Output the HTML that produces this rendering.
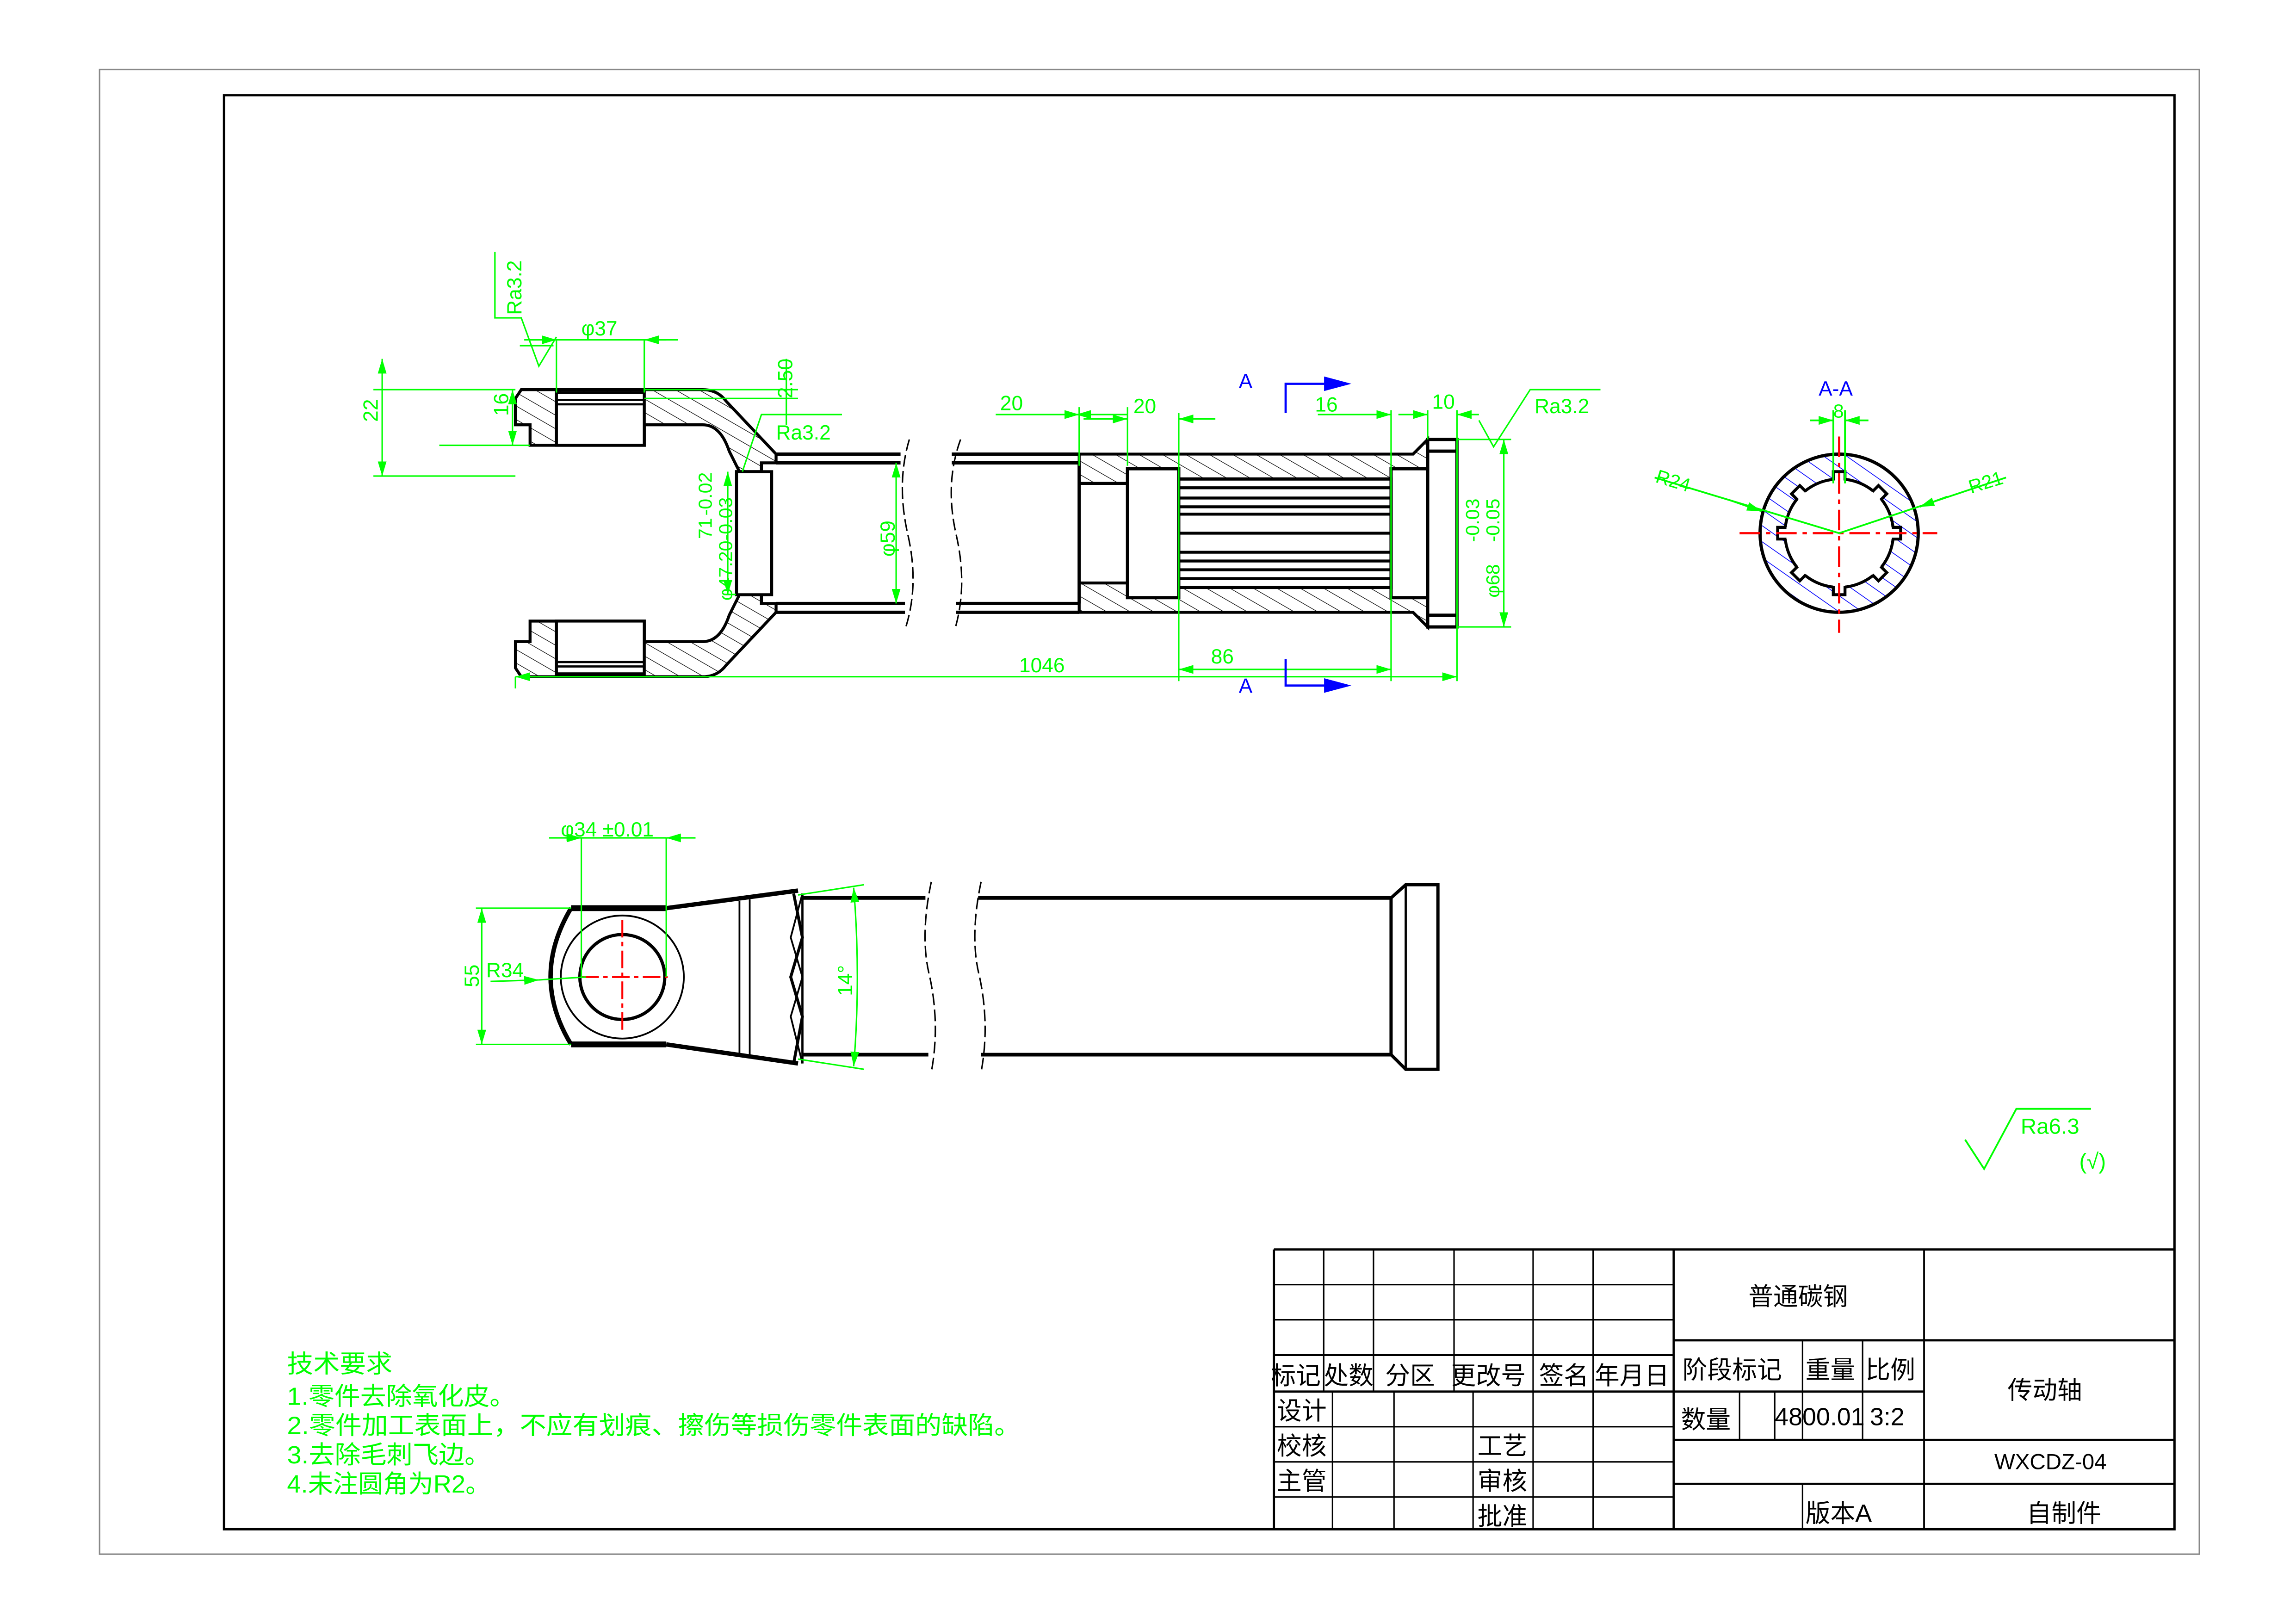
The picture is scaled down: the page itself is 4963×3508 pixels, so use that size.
<!DOCTYPE html>
<html><head><meta charset="utf-8"><style>
html,body{margin:0;padding:0;background:#fff}
svg{display:block}
text{font-family:"Liberation Sans","Noto Sans CJK SC",sans-serif}
</style></head><body>
<svg xmlns="http://www.w3.org/2000/svg" width="4963" height="3508" viewBox="0 0 1568 1108" preserveAspectRatio="none">
<defs>
<pattern id="h" patternUnits="userSpaceOnUse" width="8" height="8" patternTransform="rotate(-60)">
<line x1="0" y1="0" x2="0" y2="8" stroke="#000" stroke-width="0.8"/></pattern>
<pattern id="hb" patternUnits="userSpaceOnUse" width="9" height="9" patternTransform="rotate(-55)">
<line x1="0" y1="0" x2="0" y2="9" stroke="#00f" stroke-width="1"/></pattern>
<marker id="ar" viewBox="0 0 10 6" refX="10" refY="3" markerWidth="10" markerHeight="6" orient="auto-start-reverse" markerUnits="userSpaceOnUse"><path d="M0,0L10,3L0,6z" fill="#0f0"/></marker>
</defs>
<rect x="0" y="0" width="1568" height="1108" fill="#fff"/>
<rect x="68" y="47.5" width="1434" height="1013.5" fill="none" stroke="#888" stroke-width="1"/>
<rect x="153" y="65" width="1332" height="979" fill="none" stroke="#000" stroke-width="1.6"/>

<g stroke="#000" fill="none">
<line x1="870" y1="853" x2="1485" y2="853" stroke-width="1.5"/>
<line x1="870" y1="853" x2="870" y2="1044" stroke-width="1.5"/>
<line x1="870" y1="877" x2="1143" y2="877" stroke-width="1"/>
<line x1="870" y1="901" x2="1143" y2="901" stroke-width="1"/>
<line x1="870" y1="925" x2="1143" y2="925" stroke-width="1.5"/>
<line x1="870" y1="950" x2="1143" y2="950" stroke-width="1.5"/>
<line x1="870" y1="974" x2="1143" y2="974" stroke-width="1"/>
<line x1="870" y1="998" x2="1143" y2="998" stroke-width="1"/>
<line x1="870" y1="1022" x2="1143" y2="1022" stroke-width="1"/>
<g stroke-width="1">
<line x1="904" y1="853" x2="904" y2="950"/><line x1="938" y1="853" x2="938" y2="950"/>
<line x1="993" y1="853" x2="993" y2="950"/><line x1="1047" y1="853" x2="1047" y2="1044"/>
<line x1="1088" y1="853" x2="1088" y2="1044"/>
<line x1="910" y1="950" x2="910" y2="1044"/><line x1="952" y1="950" x2="952" y2="1044"/>
<line x1="1006" y1="950" x2="1006" y2="1044"/>
</g>
<line x1="1143" y1="853" x2="1143" y2="1044" stroke-width="1.5"/>
<line x1="1314" y1="853" x2="1314" y2="1044" stroke-width="1.2"/>
<line x1="1143" y1="915" x2="1485" y2="915" stroke-width="1.5"/>
<line x1="1143" y1="950" x2="1314" y2="950" stroke-width="1.5"/>
<line x1="1143" y1="983" x2="1485" y2="983" stroke-width="1.5"/>
<line x1="1143" y1="1013" x2="1485" y2="1013" stroke-width="1.5"/>
<line x1="1231" y1="915" x2="1231" y2="950" stroke-width="1"/>
<line x1="1272" y1="915" x2="1272" y2="983" stroke-width="1"/>
<line x1="1188" y1="950" x2="1188" y2="983" stroke-width="1"/>
<line x1="1212" y1="950" x2="1212" y2="983" stroke-width="1"/>
<line x1="1231" y1="950" x2="1231" y2="983" stroke-width="1"/>
<line x1="1231" y1="1013" x2="1231" y2="1044" stroke-width="1"/>
</g>
<g font-size="17" fill="#000">
<text x="868" y="945">标记</text><text x="904" y="945">处数</text><text x="946" y="945">分区</text>
<text x="991" y="945">更改号</text><text x="1051" y="945">签名</text><text x="1089" y="945">年月日</text>
<text x="872" y="969">设计</text><text x="872" y="993">校核</text><text x="872" y="1017">主管</text>
<text x="1009" y="993">工艺</text><text x="1009" y="1017">审核</text><text x="1009" y="1041">批准</text>
<text x="1194" y="891">普通碳钢</text>
<text x="1149" y="941">阶段标记</text><text x="1233" y="941">重量</text><text x="1274" y="941">比例</text>
<text x="1148" y="975">数量</text><text x="1212" y="973">4800.01</text><text x="1277" y="973">3:2</text>
<text x="1371" y="955">传动轴</text>
<text x="1362" y="1003" font-size="15">WXCDZ-04</text>
<text x="1233" y="1039">版本A</text>
<text x="1384" y="1039">自制件</text>
</g>

<g fill="#0f0" font-size="17">
<text x="196" y="937" textLength="72" lengthAdjust="spacingAndGlyphs">技术要求</text>
<text x="196" y="959" textLength="156" lengthAdjust="spacingAndGlyphs">1.零件去除氧化皮。</text>
<text x="196" y="979" textLength="501" lengthAdjust="spacingAndGlyphs">2.零件加工表面上，不应有划痕、擦伤等损伤零件表面的缺陷。</text>
<text x="196" y="999" textLength="139" lengthAdjust="spacingAndGlyphs">3.去除毛刺飞边。</text>
<text x="196" y="1019" textLength="139" lengthAdjust="spacingAndGlyphs">4.未注圆角为R2。</text>
</g>

<g stroke="#000" stroke-width="2" fill="url(#h)">
<path d="M352,272 L356,266 L480,266 Q490,266 496,274 L530,310 L530,316 L520,316 L520,322 L503,322 L503,406 L520,406 L520,412 L530,412 L530,418 L496,454 Q490,462 480,462 L356,462 L352,456 L352,438 L362,438 L362,424 L440,424 L440,438 L480,438 Q492,438 498,420 L505,406 L505,322 L498,308 Q492,290 480,290 L440,290 L440,304 L362,304 L362,290 L352,290 Z"/>
</g>
<g stroke="#000" stroke-width="2" fill="#fff">
<rect x="380" y="268" width="60" height="36"/>
<rect x="380" y="424" width="60" height="36"/>
<rect x="503" y="322" width="24" height="84"/>
</g>
<g stroke="#000" stroke-width="1.5">
<line x1="380" y1="273" x2="440" y2="273"/><line x1="380" y1="276" x2="440" y2="276"/>
<line x1="380" y1="455" x2="440" y2="455"/><line x1="380" y1="452" x2="440" y2="452"/>
</g>
<g stroke="#000" stroke-width="2" fill="url(#h)">
<path d="M737,310 L965,310 L975,300 L975,428 L965,418 L737,418 L737,398 L770,398 L770,408 L805,408 L805,401 L950,401 L950,408 L975,408 L975,320 L950,320 L950,327 L805,327 L805,320 L770,320 L770,330 L737,330 Z"/>
</g>
<g stroke="#000" stroke-width="2.2" fill="none">
<line x1="530" y1="310" x2="615" y2="310"/><line x1="530" y1="316" x2="615" y2="316"/>
<line x1="650" y1="310" x2="737" y2="310"/><line x1="650" y1="316" x2="737" y2="316"/>
<line x1="530" y1="418" x2="618" y2="418"/><line x1="530" y1="412" x2="618" y2="412"/>
<line x1="653" y1="418" x2="737" y2="418"/><line x1="653" y1="412" x2="737" y2="412"/>
<line x1="737" y1="316" x2="737" y2="412"/>
<rect x="975" y="300" width="20" height="128" fill="#fff"/>
<line x1="975" y1="308" x2="995" y2="308"/><line x1="975" y1="420" x2="995" y2="420"/>
<rect x="770" y="320" width="35" height="88" fill="#fff"/>
<rect x="950" y="320" width="25" height="88" fill="#fff"/>
<rect x="805" y="327" width="145" height="74" fill="#fff"/>
</g>
<g stroke="#000" stroke-width="2">
<line x1="805" y1="333" x2="950" y2="333"/><line x1="805" y1="340" x2="950" y2="340"/>
<line x1="805" y1="346" x2="950" y2="346"/><line x1="805" y1="351" x2="950" y2="351"/>
<line x1="805" y1="364" x2="950" y2="364"/><line x1="805" y1="377" x2="950" y2="377"/>
<line x1="805" y1="383" x2="950" y2="383"/><line x1="805" y1="389" x2="950" y2="389"/>
<line x1="805" y1="395" x2="950" y2="395"/>
</g>
<g stroke="#000" stroke-width="1" fill="none" stroke-dasharray="8,3">
<path d="M621,300 Q612,330 620,365 Q628,400 618,430"/>
<path d="M656,300 Q645,330 653,365 Q661,400 652,430"/>
</g>

<g stroke="#0f0" stroke-width="1" fill="none">
<line x1="255" y1="266" x2="352" y2="266"/><line x1="255" y1="325" x2="352" y2="325"/>
<line x1="261" y1="245" x2="261" y2="325" marker-start="url(#ar)" marker-end="url(#ar)"/>
<line x1="300" y1="304" x2="362" y2="304"/>
<line x1="350" y1="266" x2="350" y2="304" marker-start="url(#ar)" marker-end="url(#ar)"/>
<line x1="358" y1="232" x2="463" y2="232"/>
<line x1="380" y1="232" x2="380" y2="268"/><line x1="440" y1="232" x2="440" y2="268"/>
<line x1="362" y1="232" x2="380" y2="232" marker-end="url(#ar)"/><line x1="455" y1="232" x2="440" y2="232" marker-end="url(#ar)"/>
<path d="M338,172 L338,217 L356,217 L368,250 L380,230 M355,236 L378,236"/>
<line x1="440" y1="266" x2="545" y2="266"/><line x1="440" y1="272" x2="545" y2="272"/>
<line x1="537" y1="245" x2="537" y2="290"/>
<path d="M507,322 L520,283 L575,283"/>
<line x1="497" y1="322" x2="497" y2="406" marker-start="url(#ar)" marker-end="url(#ar)"/>
<line x1="612" y1="316" x2="612" y2="412" marker-start="url(#ar)" marker-end="url(#ar)"/>
<line x1="737" y1="278" x2="737" y2="318"/><line x1="770" y1="278" x2="770" y2="318"/>
<line x1="805" y1="282" x2="805" y2="465"/><line x1="950" y1="280" x2="950" y2="465"/>
<line x1="975" y1="280" x2="975" y2="300"/><line x1="995" y1="280" x2="995" y2="465"/>
<line x1="680" y1="283" x2="737" y2="283" marker-end="url(#ar)"/><line x1="735" y1="283" x2="770" y2="283" marker-start="url(#ar)"/>
<line x1="740" y1="286" x2="770" y2="286" marker-end="url(#ar)"/><line x1="805" y1="286" x2="830" y2="286" marker-start="url(#ar)"/>
<line x1="900" y1="283" x2="950" y2="283" marker-end="url(#ar)"/>
<line x1="955" y1="283" x2="975" y2="283" marker-end="url(#ar)"/><line x1="995" y1="283" x2="1010" y2="283" marker-start="url(#ar)"/>
<path d="M1010,287 L1020,305 L1045,266 L1093,266"/>
<line x1="995" y1="300" x2="1032" y2="300"/><line x1="995" y1="428" x2="1032" y2="428"/>
<line x1="1027" y1="300" x2="1027" y2="428" marker-start="url(#ar)" marker-end="url(#ar)"/>
<line x1="352" y1="462" x2="352" y2="470"/>
<line x1="352" y1="462" x2="995" y2="462" marker-start="url(#ar)" marker-end="url(#ar)"/>
<line x1="805" y1="457" x2="950" y2="457" marker-start="url(#ar)" marker-end="url(#ar)"/>
</g>
<g fill="#0f0" font-size="14">
<text transform="translate(258,288) rotate(-90)">22</text>
<text transform="translate(347,284) rotate(-90)">16</text>
<text transform="translate(356,215) rotate(-90)">Ra3.2</text>
<text x="397" y="229">φ37</text>
<text transform="translate(541,272) rotate(-90)">2.50</text>
<text x="530" y="300">Ra3.2</text>
<text transform="translate(486,368) rotate(-90)" font-size="13">71</text>
<text transform="translate(486,352) rotate(-90)" font-size="13">-0.02</text>
<text transform="translate(500,410) rotate(-90)" font-size="13">φ47.20-0.03</text>
<text transform="translate(611,380) rotate(-90)">φ59</text>
<text x="683" y="280">20</text><text x="774" y="282">20</text>
<text x="898" y="281">16</text><text x="978" y="279">10</text>
<text x="1048" y="282">Ra3.2</text>
<text transform="translate(1010,370) rotate(-90)" font-size="13">-0.03</text>
<text transform="translate(1024,370) rotate(-90)" font-size="13">-0.05</text>
<text transform="translate(1024,408) rotate(-90)" font-size="13">φ68</text>
<text x="696" y="459">1046</text><text x="827" y="453">86</text>
</g>
<g stroke="#00f" stroke-width="1.5" fill="#00f">
<path d="M878,282 L878,262 L905,262" fill="none"/><path d="M905,258 L920,262 L905,266z"/>
<path d="M878,450 L878,468 L905,468" fill="none"/><path d="M905,464 L920,468 L905,472z"/>
</g>
<g fill="#00f" font-size="14"><text x="846" y="265">A</text><text x="846" y="473">A</text><text x="1242" y="270">A-A</text></g>

<g>
<path d="M1202,364 a54,54 0 1,0 108,0 a54,54 0 1,0 -108,0 Z M1219,364 a37,37 0 1,1 74,0 a37,37 0 1,1 -74,0 Z" fill="url(#hb)" fill-rule="evenodd"/>
<circle cx="1256" cy="364" r="54" fill="none" stroke="#000" stroke-width="2.2"/>
<circle cx="1256" cy="364" r="37" fill="none" stroke="#000" stroke-width="2"/>
<g stroke="#000" stroke-width="2" fill="#fff">
<g transform="translate(1256,364) rotate(0)"><rect x="-4" y="-42" width="8" height="7" stroke="none"/><path d="M-4,-36 V-42 H4 V-36" fill="none"/></g>
<g transform="translate(1256,364) rotate(45)"><rect x="-4" y="-42" width="8" height="7" stroke="none"/><path d="M-4,-36 V-42 H4 V-36" fill="none"/></g>
<g transform="translate(1256,364) rotate(90)"><rect x="-4" y="-42" width="8" height="7" stroke="none"/><path d="M-4,-36 V-42 H4 V-36" fill="none"/></g>
<g transform="translate(1256,364) rotate(135)"><rect x="-4" y="-42" width="8" height="7" stroke="none"/><path d="M-4,-36 V-42 H4 V-36" fill="none"/></g>
<g transform="translate(1256,364) rotate(180)"><rect x="-4" y="-42" width="8" height="7" stroke="none"/><path d="M-4,-36 V-42 H4 V-36" fill="none"/></g>
<g transform="translate(1256,364) rotate(225)"><rect x="-4" y="-42" width="8" height="7" stroke="none"/><path d="M-4,-36 V-42 H4 V-36" fill="none"/></g>
<g transform="translate(1256,364) rotate(270)"><rect x="-4" y="-42" width="8" height="7" stroke="none"/><path d="M-4,-36 V-42 H4 V-36" fill="none"/></g>
<g transform="translate(1256,364) rotate(315)"><rect x="-4" y="-42" width="8" height="7" stroke="none"/><path d="M-4,-36 V-42 H4 V-36" fill="none"/></g>
</g>
<g stroke="#f00" stroke-width="1.5" stroke-dasharray="14,4,3,4">
<line x1="1188" y1="364" x2="1323" y2="364"/><line x1="1256" y1="298" x2="1256" y2="432"/>
</g>
<g stroke="#0f0" stroke-width="1.2" fill="none">
<line x1="1252" y1="280" x2="1252" y2="330"/><line x1="1260" y1="280" x2="1260" y2="330"/>
<line x1="1236" y1="287" x2="1252" y2="287" marker-end="url(#ar)"/><line x1="1276" y1="287" x2="1260" y2="287" marker-end="url(#ar)"/>
<path d="M1130,326 L1256,364"/><line x1="1180" y1="341" x2="1203" y2="349" marker-end="url(#ar)"/>
<path d="M1370,326 L1256,364"/><line x1="1330" y1="339" x2="1311" y2="346" marker-end="url(#ar)"/>
</g>
<g fill="#0f0" font-size="13">
<text x="1252" y="285">8</text>
<text transform="translate(1130,329) rotate(17)">R24</text>
<text transform="translate(1346,337) rotate(-17)">R21</text>
</g>
</g>

<g stroke="#000" fill="none">
<path d="M390,620 Q362,667 390,713" stroke-width="3"/>
<line x1="390" y1="620" x2="455" y2="620" stroke-width="4"/>
<line x1="390" y1="713" x2="455" y2="713" stroke-width="4"/>
<line x1="455" y1="620" x2="545" y2="608" stroke-width="3"/>
<line x1="455" y1="713" x2="545" y2="726" stroke-width="3"/>
<circle cx="425" cy="667" r="42" stroke-width="1.2"/>
<circle cx="425" cy="667" r="29" stroke-width="2.2"/>
<line x1="505" y1="615" x2="505" y2="719" stroke-width="1.2"/>
<line x1="512" y1="614" x2="512" y2="721" stroke-width="1.2"/>
<path d="M542,610 L548,640 L540,667 L548,694 L542,726" stroke-width="2"/>
<path d="M548,610 L540,640 L548,667 L540,694 L548,726" stroke-width="1.2"/>
<line x1="548" y1="610" x2="548" y2="726" stroke-width="1.5"/>
<line x1="548" y1="613" x2="632" y2="613" stroke-width="2.5"/>
<line x1="668" y1="613" x2="950" y2="613" stroke-width="2.5"/>
<line x1="548" y1="720" x2="634" y2="720" stroke-width="2.5"/>
<line x1="670" y1="720" x2="950" y2="720" stroke-width="2.5"/>
<path d="M950,613 L960,604 L982,604 L982,730 L960,730 L950,720 Z" stroke-width="2.2"/>
<line x1="960" y1="604" x2="960" y2="730" stroke-width="1.5"/>
<line x1="950" y1="613" x2="950" y2="720" stroke-width="1.5"/>
<g stroke-width="1" stroke-dasharray="8,3">
<path d="M636,602 Q628,640 635,667 Q642,700 636,732"/>
<path d="M670,602 Q662,640 669,667 Q676,700 670,732"/>
</g>
</g>
<g stroke="#f00" stroke-width="1.3" stroke-dasharray="12,3,3,3">
<line x1="397" y1="667" x2="456" y2="667"/><line x1="425" y1="628" x2="425" y2="706"/>
</g>
<g stroke="#0f0" stroke-width="1" fill="none">
<line x1="397" y1="572" x2="397" y2="667"/><line x1="455" y1="572" x2="455" y2="667"/>
<line x1="375" y1="572" x2="397" y2="572" marker-end="url(#ar)"/><line x1="475" y1="572" x2="455" y2="572" marker-end="url(#ar)"/>
<line x1="397" y1="572" x2="455" y2="572"/>
<line x1="325" y1="620" x2="390" y2="620"/><line x1="325" y1="713" x2="390" y2="713"/>
<line x1="329" y1="620" x2="329" y2="713" marker-start="url(#ar)" marker-end="url(#ar)"/>
<line x1="335" y1="670" x2="368" y2="669" marker-end="url(#ar)"/>
<line x1="368" y1="669" x2="400" y2="667"/>
<line x1="545" y1="611" x2="590" y2="604"/><line x1="545" y1="723" x2="590" y2="730"/>
<path d="M583,606 Q588,667 583,728" marker-start="url(#ar)" marker-end="url(#ar)"/>
</g>
<g fill="#0f0" font-size="14">
<text x="383" y="571">φ34 ±0.01</text>
<text transform="translate(327,674) rotate(-90)">55</text>
<text x="332" y="667">R34</text>
<text transform="translate(582,680) rotate(-90)">14°</text>
</g>

<g stroke="#0f0" stroke-width="1.2" fill="none"><path d="M1342,778 L1355,798 L1377,757 L1428,757"/></g>
<g fill="#0f0" font-size="15"><text x="1380" y="774">Ra6.3</text><text x="1420" y="798">(√)</text></g>
</svg>
</body></html>
